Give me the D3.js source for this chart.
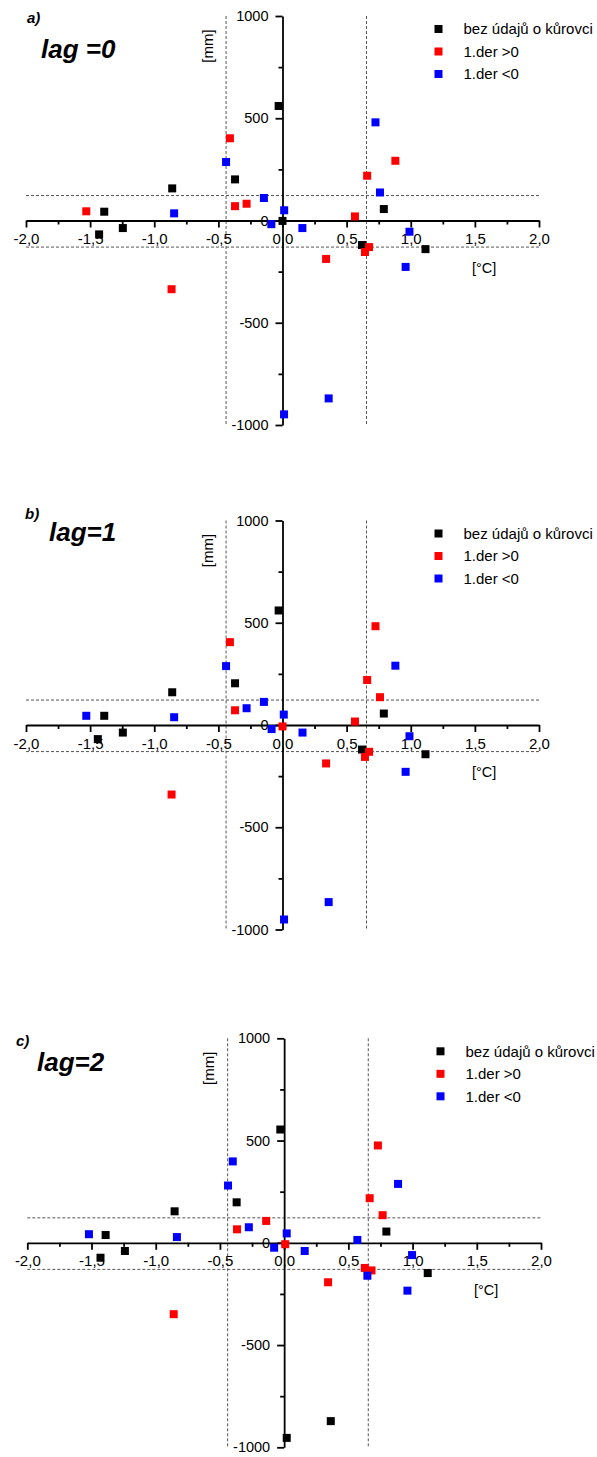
<!DOCTYPE html>
<html>
<head>
<meta charset="utf-8">
<script src="https://cdnjs.cloudflare.com/ajax/libs/d3/7.8.5/d3.min.js"></script>
<style>
  body { margin: 0; background: #fff; }
  svg { display: block; font-family: Arial, "Liberation Sans", sans-serif; }
</style>
</head>
<body>
<div id="chart"></div>
<script>
// legend names
var seriesNames = ["bez údajů o kůrovci", "1.der >0", "1.der <0"];
var panelLabels = ["a)", "b)", "c)"];
var lagLabels = ["lag =0", "lag=1", "lag=2"];

var xTicks = [-2, -1.5, -1, -0.5, 0, 0.5, 1, 1.5, 2];
var xTickLabels = ["-2,0", "-1,5", "-1,0", "-0,5", "0,0", "0,5", "1,0", "1,5", "2,0"];
var xMinorTicks = [-1.75, -1.25, -0.75, -0.25, 0.25, 0.75, 1.25, 1.75];
var yTicks = [-1000, -500, 0, 500, 1000];
var yTickLabels = ["-1000", "-500", "0", "500", "1000"];
var yMinorTicks = [-750, -250, 250, 750];

// dashed threshold lines
var refX = [-0.44, 0.655];
var refY = [122, -130];

// lag = 0  [°C, mm]
var lag0Black = [[-0.03, 560], [-0.37, 201], [-0.86, 157], [-1.39, 43], [0.0, -2], [-1.245, -37],
  [-1.43, -68], [0.79, 56], [0.62, -120], [1.115, -140]];
var lag0Red = [[-0.41, 402], [-0.37, 70], [-0.28, 82], [-1.53, 45], [-0.865, -336], [0.34, -188],
  [0.675, -130], [0.643, -154], [0.88, 292], [0.66, 219], [0.565, 20]];
var lag0Blue = [[-0.44, 286], [-0.145, 110], [-0.845, 35], [0.013, 50], [-0.087, -18], [0.155, -37],
  [0.012, -948], [0.36, -870], [0.96, -227], [0.99, -55], [0.76, 137], [0.725, 480]];

// lag = 1
var lag1Black = [[-0.03, 560], [-0.37, 204], [-0.86, 160], [-1.39, 45], [-1.245, -37], [-1.44, -69],
  [0.79, 56], [0.62, -120], [1.115, -143]];
var lag1Red = [[-0.41, 405], [-0.37, 72], [0.0, -7], [0.725, 483], [0.66, 220], [0.76, 136],
  [0.565, 17], [-0.865, -340], [0.34, -188], [0.675, -131], [0.643, -156]];
var lag1Blue = [[-0.44, 288], [-0.145, 113], [-0.28, 82], [-1.53, 45], [-0.845, 38], [0.01, 51],
  [-0.085, -20], [0.88, 290], [0.156, -37], [0.99, -55], [0.012, -951], [0.36, -866], [0.96, -229]];

// lag = 2
var lag2Black = [[-0.03, 554], [-0.37, 198], [-0.853, 154], [-1.39, 38], [-1.24, -40], [-1.43, -73],
  [0.796, 55], [0.02, -954], [0.363, -872], [1.118, -148]];
var lag2Red = [[-0.14, 107], [-0.367, 66], [0.008, -7], [0.73, 476], [0.666, 218], [0.767, 135],
  [-0.86, -349], [0.342, -193], [0.628, -123], [0.68, -135]];
var lag2Blue = [[-0.40, 398], [-0.437, 280], [-0.275, 76], [-1.52, 42], [-0.835, 28], [0.02, 46],
  [-0.078, -24], [0.887, 288], [0.57, 14], [0.16, -40], [0.996, -60], [0.648, -161], [0.96, -234]];

var Charts = (function() {

  var colors = ["#000000", "#ff0000", "#0000ff"];
  var markSize = 8;

  var drawAxes = function(g, x, y) {
    g.append("g").attr("class", "xaxis").attr("transform", "translate(0," + y(0) + ")")
      .call(d3.axisBottom(x).tickValues(xTicks)
        .tickFormat(function (d, i) { return xTickLabels[i]; })
        .tickSize(7).tickPadding(6).tickSizeOuter(0));
    var xMinor = g.append("g").attr("transform", "translate(0," + y(0) + ")")
      .call(d3.axisBottom(x).tickValues(xMinorTicks).tickFormat("").tickSize(4).tickSizeOuter(0));
    xMinor.select(".domain").remove();

    g.append("g").attr("class", "yaxis").attr("transform", "translate(" + x(0) + ",0)")
      .call(d3.axisLeft(y).tickValues(yTicks)
        .tickFormat(function (d, i) { return yTickLabels[i]; })
        .tickSize(7).tickPadding(7).tickSizeOuter(0));
    var yMinor = g.append("g").attr("transform", "translate(" + x(0) + ",0)")
      .call(d3.axisLeft(y).tickValues(yMinorTicks).tickFormat("").tickSize(4).tickSizeOuter(0));
    yMinor.select(".domain").remove();

    g.selectAll(".domain, .tick line").attr("stroke", "#000").attr("stroke-width", 1.8);
    g.selectAll(".tick text").attr("font-size", 14.5).attr("fill", "#000")
      .attr("font-family", "Arial, 'Liberation Sans', sans-serif");
    g.selectAll(".xaxis .tick text").attr("font-size", 15);
  };

  var drawRefLines = function(g, x, y) {
    g.selectAll("line.refx")
    .data(refX)
    .enter()
    .append("line")
    .attr("class", "refx")
    .attr("x1", function (d) { return x(d); })
    .attr("x2", function (d) { return x(d); })
    .attr("y1", y(1000))
    .attr("y2", y(-1000));

    g.selectAll("line.refy")
    .data(refY)
    .enter()
    .append("line")
    .attr("class", "refy")
    .attr("x1", x(-2))
    .attr("x2", x(2))
    .attr("y1", function (d) { return y(d); })
    .attr("y2", function (d) { return y(d); });

    g.selectAll("line.refx, line.refy")
      .attr("stroke", "#555").attr("stroke-width", 1).attr("stroke-dasharray", "3,2");
  };

  var drawPoints = function(g, x, y, series) {
    series.forEach(function (data, s) {
      g.append("g").selectAll("rect")
      .data(data)
      .enter()
      .append("rect")
      .attr("x", function (d) { return x(d[0]) - markSize / 2; })
      .attr("y", function (d) { return y(d[1]) - markSize / 2; })
      .attr("width", markSize)
      .attr("height", markSize)
      .attr("fill", colors[s]);
    });
  };

  var drawLegend = function(g, px, py) {
    var items = g.append("g").selectAll("g")
    .data(seriesNames)
    .enter()
    .append("g")
    .attr("transform", function (d, i) { return "translate(" + px + "," + (py + i * 22.5) + ")"; });
    items.append("rect")
      .attr("x", -markSize / 2).attr("y", -markSize / 2)
      .attr("width", markSize).attr("height", markSize)
      .attr("fill", function (d, i) { return colors[i]; });
    items.append("text")
      .attr("x", 25)
      .attr("dy", "0.35em")
      .attr("font-size", 15)
      .text(function (d) { return d; });
  };

  var createPanel = function(svg, p, series, idx) {
    var g = svg.append("g");
    var x = d3.scaleLinear().domain([-2, 2]).range([p.left, p.right]);
    var y = d3.scaleLinear().domain([-1000, 1000]).range([p.top + 409, p.top]);

    drawRefLines(g, x, y);
    drawAxes(g, x, y);

    g.append("text")
      .attr("x", p.titleX).attr("y", p.titleY)
      .attr("font-size", 15).attr("font-weight", "bold").attr("font-style", "italic")
      .text(panelLabels[idx]);
    g.append("text")
      .attr("x", p.lagX).attr("y", p.lagY)
      .attr("font-size", 26).attr("font-weight", "bold").attr("font-style", "italic")
      .text(lagLabels[idx]);

    g.append("text")
      .attr("transform", "translate(" + (p.left + 187) + "," + (p.top + 30) + ") rotate(-90)")
      .attr("text-anchor", "middle")
      .attr("font-size", 15)
      .text("[mm]");
    g.append("text")
      .attr("x", p.right - 67).attr("y", y(0) + 52)
      .attr("font-size", 14.5)
      .text("[°C]");

    drawPoints(g, x, y, series);
    drawLegend(g, p.right - 100.5, p.top + 13);
  };

  return {
    createPanel: createPanel
  };
})();

var svg = d3.select("#chart").append("svg")
  .attr("width", 597)
  .attr("height", 1457);

var panels = [
  { top: 16, left: 26, right: 539, titleX: 27, titleY: 23, lagX: 41, lagY: 58 },
  { top: 520.5, left: 26, right: 539, titleX: 25, titleY: 519, lagX: 49, lagY: 541 },
  { top: 1038.3, left: 27.3, right: 541, titleX: 16, titleY: 1046, lagX: 37, lagY: 1071 }
];

Charts.createPanel(svg, panels[0], [lag0Black, lag0Red, lag0Blue], 0);
Charts.createPanel(svg, panels[1], [lag1Black, lag1Red, lag1Blue], 1);
Charts.createPanel(svg, panels[2], [lag2Black, lag2Red, lag2Blue], 2);
</script>
</body>
</html>
